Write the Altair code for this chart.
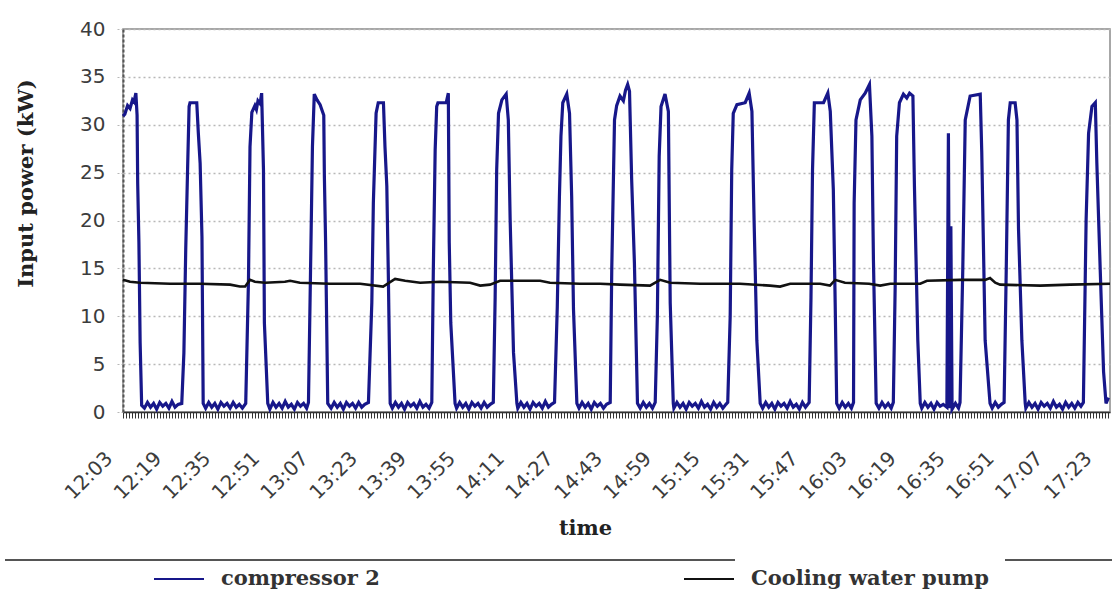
import altair as alt
import pandas as pd

# minutes after 12:03
START_MIN = 12 * 60 + 3

comp_t = [
    0.0, 0.6, 1.5, 2.3, 3.1, 3.6, 4.2, 4.6, 4.8, 5.2, 5.6, 6.1,
    7, 8, 9, 10, 11, 12, 13, 14, 15, 16, 17, 18,
    19.2, 19.9, 20.5, 21.1, 21.6, 21.9, 24.1, 24.6, 25.2, 25.8, 26.2,
    27, 28, 29, 30, 31, 32, 33, 34, 35, 36, 37, 38, 39,
    40.1, 41.0, 41.5, 42.1, 43.1, 43.6, 44.1, 44.8, 45.3, 45.9, 46.2, 47.3,
    48, 49, 50, 51, 52, 53, 54, 55, 56, 57, 58, 59, 60,
    60.6, 61.4, 61.9, 62.5, 63.4, 64.4, 65.6, 65.8, 66.2, 66.9,
    68, 69, 70, 71, 72, 73, 74, 75, 76, 77, 78, 79,
    80.2, 81.3, 81.8, 82.7, 83.4, 85.1, 85.6, 86.2, 86.7, 87.3,
    88, 89, 90, 91, 92, 93, 94, 95, 96, 97, 98, 99, 100,
    100.9, 101.4, 102.0, 102.5, 102.9, 105.6, 106.3, 106.6, 107.1, 108.5,
    109, 110, 111, 112, 113, 114, 115, 116, 117, 118, 119, 120,
    121.0, 121.6, 122.1, 122.7, 123.8, 125.2, 125.9, 126.5, 127.6, 128.7,
    129, 130, 131, 132, 133, 134, 135, 136, 137, 138, 139, 140,
    141.0, 141.9, 142.6, 143.1, 143.7, 145.0, 145.9, 146.6, 147.2, 148.3,
    149, 150, 151, 152, 153, 154, 155, 156, 157, 158,
    159.2, 159.7, 160.6, 161.3, 162.4, 163.5, 164.2, 164.9, 165.5, 166.2, 167.1, 168.1,
    169, 170, 171, 172, 173,
    173.9, 174.6, 175.2, 175.8, 177.1, 178.2, 178.8, 179.8,
    180, 181, 182, 183, 184, 185, 186, 187, 188, 189, 190, 191, 192, 193, 194, 195, 196, 197,
    197.6, 198.4, 198.9, 199.4, 200.6, 203.3, 204.6, 205.5, 206.2, 207.1, 208.2,
    209, 210, 211, 212, 213, 214, 215, 216, 217, 218, 219, 220, 221, 222, 223,
    224.2, 224.8, 225.3, 225.9, 228.9, 230.3, 231.1, 232.1, 232.7, 233.2,
    234, 235, 236, 237, 238,
    238.7, 238.9, 239.5, 240.9, 242.5, 243.9, 244.7, 245.2, 246.1,
    247, 248, 249, 250, 251,
    251.7, 252.3, 252.8, 253.7, 255.0, 256.1, 257.0, 258.1, 258.6, 259.7, 260.5,
    261, 262, 263, 264, 265, 266, 267, 268,
    269.2, 269.7, 270.1, 270.5, 270.9,
    272, 273,
    273.5, 274.4, 275.2, 276.8, 280.1, 280.6, 281.7, 283.3,
    284, 285, 286, 287,
    287.9, 288.6, 289.3, 289.9, 291.5, 292.1, 292.6, 293.7, 294.8,
    295, 296, 297, 298, 299, 300, 301, 302, 303, 304, 305, 306, 307, 308, 309, 310, 311, 312, 313,
    313.8, 314.7, 315.5, 316.6, 317.7, 318.2, 319.3, 320.4, 321.2, 322.0,
]

comp_kw = [
    30.9, 31.1, 32.0, 31.7, 32.6, 32.4, 33.3, 31.0, 23.9, 17.7, 7.2, 0.7,
    0.4, 1.0, 0.5, 0.9, 0.3, 1.0, 0.6, 0.9, 0.4, 1.1, 0.5, 0.8,
    0.9, 6.2, 17.0, 25.3, 31.9, 32.3, 32.3, 29.2, 26.0, 18.3, 0.9,
    0.4, 1.0, 0.5, 0.9, 0.3, 1.0, 0.6, 0.9, 0.4, 1.0, 0.5, 0.8, 0.4,
    0.9, 13.8, 27.7, 31.3, 32.0, 31.6, 32.5, 32.2, 33.3, 25.3, 9.3, 0.9,
    0.3, 1.0, 0.5, 0.9, 0.4, 1.1, 0.5, 0.8, 0.3, 1.0, 0.6, 0.9, 0.4,
    1.0, 17.3, 27.7, 33.2, 32.6, 32.1, 31.0, 24.6, 17.7, 0.9,
    0.4, 1.0, 0.5, 0.9, 0.3, 1.0, 0.6, 0.9, 0.4, 1.0, 0.5, 0.8,
    1.0, 11.4, 21.8, 31.2, 32.3, 32.3, 27.7, 23.6, 14.2, 0.9,
    0.4, 1.0, 0.5, 0.9, 0.3, 1.0, 0.6, 0.9, 0.4, 1.1, 0.5, 0.8, 0.4,
    1.0, 14.9, 27.4, 31.9, 32.3, 32.3, 33.3, 17.7, 9.3, 0.9,
    0.4, 1.0, 0.5, 0.9, 0.3, 1.0, 0.6, 0.9, 0.4, 1.0, 0.5, 0.8,
    1.0, 12.0, 25.3, 31.2, 32.6, 33.2, 30.5, 20.1, 6.2, 0.9,
    0.4, 1.0, 0.5, 0.9, 0.3, 1.0, 0.6, 0.9, 0.4, 1.1, 0.5, 0.8,
    1.0, 11.0, 22.5, 28.8, 32.3, 33.2, 31.2, 22.5, 10.7, 0.9,
    0.4, 1.0, 0.5, 0.9, 0.3, 1.0, 0.6, 0.9, 0.4, 0.8,
    1.0, 14.9, 30.5, 32.0, 33.0, 32.5, 33.6, 34.2, 33.5, 24.3, 15.6, 0.9,
    0.4, 1.0, 0.5, 0.9, 0.4,
    1.0, 10.0, 26.7, 31.9, 33.2, 31.4, 11.4, 0.9,
    0.4, 1.0, 0.5, 0.9, 0.3, 1.0, 0.6, 0.9, 0.4, 1.1, 0.5, 0.8, 0.3, 1.0, 0.5, 0.9, 0.4, 0.8,
    1.0, 10.0, 25.3, 31.2, 32.1, 32.3, 33.3, 31.4, 20.1, 7.5, 0.9,
    0.4, 1.0, 0.5, 0.9, 0.3, 1.0, 0.6, 0.9, 0.4, 1.1, 0.5, 0.8, 0.3, 1.0, 0.5,
    1.0, 12.0, 25.3, 32.3, 32.3, 33.3, 31.4, 23.2, 11.4, 0.9,
    0.4, 1.0, 0.5, 0.9, 0.4,
    1.0, 21.8, 30.5, 32.6, 33.3, 34.2, 28.8, 15.9, 0.9,
    0.4, 1.0, 0.5, 0.9, 0.4,
    1.0, 13.0, 28.8, 32.3, 33.2, 32.8, 33.3, 33.0, 23.6, 7.5, 0.9,
    0.4, 1.0, 0.5, 0.9, 0.3, 1.0, 0.6, 0.8,
    0.5, 29.1, 0.4, 19.4, 0.3,
    0.9, 0.4,
    1.0, 15.0, 30.5, 33.0, 33.2, 27.1, 7.5, 0.9,
    0.4, 1.0, 0.5, 0.8,
    1.0, 14.9, 30.5, 32.3, 32.3, 30.5, 19.2, 7.5, 0.9,
    0.4, 1.0, 0.5, 0.9, 0.3, 1.0, 0.6, 0.9, 0.4, 1.1, 0.5, 0.8, 0.3, 1.0, 0.5, 0.9, 0.4, 1.0, 0.6,
    1.0, 20.1, 29.1, 31.9, 32.3, 26.0, 14.9, 4.2, 0.9, 1.5,
]

pump_t = [
    0.0, 2.3, 5.6, 15.4, 25.2, 35.0, 38.2, 39.9, 41.5, 43.1, 46.4, 52.9, 54.6, 57.8,
    67.6, 77.5, 85.0, 88.9, 92.2, 97.1, 103.6, 113.4, 116.7, 119.9, 123.2, 136.3,
    139.5, 149.3, 155.9, 162.4, 172.2, 175.5, 178.8, 188.6, 201.6, 211.4, 214.7,
    218.0, 227.8, 231.0, 232.7, 235.9, 243.8, 247.4, 250.7, 260.5, 262.7, 273.5,
    281.7, 283.3, 285.0, 286.6, 299.7, 309.5, 322.5,
]
pump_kw = [
    13.8, 13.6, 13.5, 13.4, 13.4, 13.3, 13.1, 13.1, 13.8, 13.6, 13.5, 13.6, 13.7, 13.5,
    13.4, 13.4, 13.1, 13.9, 13.7, 13.5, 13.6, 13.5, 13.2, 13.3, 13.7, 13.7,
    13.5, 13.4, 13.4, 13.3, 13.2, 13.8, 13.5, 13.4, 13.4, 13.2, 13.1,
    13.4, 13.4, 13.2, 13.8, 13.5, 13.4, 13.2, 13.4, 13.4, 13.7, 13.8,
    13.8, 14.0, 13.5, 13.3, 13.2, 13.3, 13.4,
]

series_names = ["compressor 2", "Cooling water pump"]
series_colors = ["#17178a", "#111111"]
y_ticks = [0, 5, 10, 15, 20, 25, 30, 35, 40]
x_tick_minutes = list(range(0, 323))

comp_df = pd.DataFrame({"t": comp_t, "kw": comp_kw, "series": series_names[0]})
pump_df = pd.DataFrame({"t": pump_t, "kw": pump_kw, "series": series_names[1]})

label_expr = (
    "datum.value % 16 == 0 ? "
    f"(floor((datum.value + {START_MIN}) / 60) + ':' + "
    f"(((datum.value + {START_MIN}) % 60) < 10 ? '0' : '') + ((datum.value + {START_MIN}) % 60))"
    " : ''"
)

x_enc = alt.X(
    "t:Q",
    scale=alt.Scale(domain=[0, 322.5], nice=False, zero=False),
    axis=alt.Axis(
        values=x_tick_minutes,
        labelExpr=label_expr,
        labelAngle=-45,
        labelAlign="right",
        labelBaseline="middle",
        labelPadding=37,
        labelOffset=-14,
        labelOverlap=False,
        labelBound=False,
        labelFlush=False,
        labelFont="DejaVu Sans",
        labelFontSize=20,
        labelColor="#3c3c3c",
        tickSize=6,
        tickColor="#333333",
        tickWidth=1,
        domainColor="#333333",
        domainWidth=1.5,
        grid=False,
        title="time",
        titleFont="DejaVu Serif",
        titleFontWeight="bold",
        titleFontSize=21,
        titleColor="#222222",
        titleX=462,
        titleY=116,
        titleAlign="center",
        titleBaseline="middle",
    ),
)

y_enc = alt.Y(
    "kw:Q",
    scale=alt.Scale(domain=[0, 40], nice=False),
    axis=alt.Axis(
        values=y_ticks,
        grid=True,
        gridDash=[2, 3],
        gridColor="#b8b8b8",
        gridWidth=1.5,
        domainDash=[3, 2],
        domainColor="#555555",
        domainWidth=2,
        tickSize=6,
        tickColor="#b8b8b8",
        tickDash=[2, 2],
        labelPadding=12,
        labelFont="DejaVu Sans",
        labelFontSize=20,
        labelColor="#3c3c3c",
        title="Input power (kW)",
        titleFont="DejaVu Serif",
        titleFontWeight="bold",
        titleFontSize=21,
        titleColor="#222222",
        titleX=-97,
        titleY=154,
        titleAngle=-90,
        titleAlign="center",
        titleBaseline="middle",
    ),
)

color_enc = alt.Color(
    "series:N",
    scale=alt.Scale(domain=series_names, range=series_colors),
    legend=alt.Legend(
        orient="none",
        legendX=30,
        legendY=524,
        direction="horizontal",
        title=None,
        symbolType="stroke",
        symbolSize=2500,
        symbolStrokeWidth=2,
        labelFont="DejaVu Serif",
        labelFontWeight="bold",
        labelFontSize=21,
        labelColor="#333333",
        labelOffset=16,
        labelLimit=400,
        columnPadding=300,
    ),
)

comp_line = alt.Chart(comp_df).mark_line(strokeWidth=3.2).encode(x=x_enc, y=y_enc, color=color_enc)
pump_line = alt.Chart(pump_df).mark_line(strokeWidth=2.6).encode(x=x_enc, y=y_enc, color=color_enc)

rule_df = pd.DataFrame({"k": [0]})
rule1 = alt.Chart(rule_df).mark_rule(color="#555555", strokeWidth=2).encode(
    x=alt.value(-118), x2=alt.value(612), y=alt.value(531)
)
rule2 = alt.Chart(rule_df).mark_rule(color="#555555", strokeWidth=2).encode(
    x=alt.value(882), x2=alt.value(989), y=alt.value(531)
)

chart = (
    alt.layer(comp_line, pump_line, rule1, rule2)
    .properties(
        width=987,
        height=383,
        autosize=alt.AutoSizeParams(type="none"),
        padding={"left": 123, "top": 29, "right": 2, "bottom": 185},
        background="white",
    )
    .configure_view(stroke="#8a8a8a", strokeWidth=1.5)
)

chart.save("out.html", embed_options={"renderer": "svg", "actions": False})
